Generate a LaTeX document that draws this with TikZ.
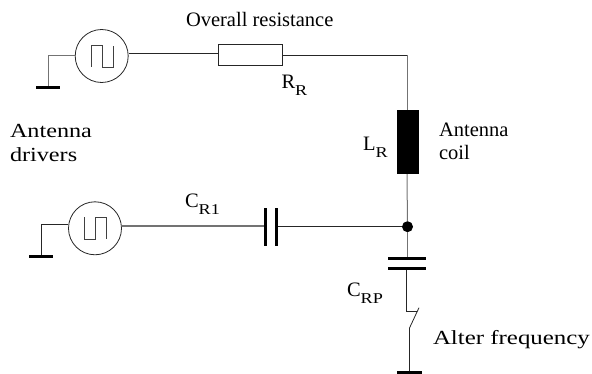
\documentclass[tikz,border=0pt]{standalone}
\usepackage{fontspec}
\setmainfont{Liberation Serif}
\newfontfamily\widefont[FakeStretch=1.21]{Liberation Serif}
\newfontfamily\widerfont[FakeStretch=1.245]{Liberation Serif}
\newcommand{\subR}[1]{\raisebox{-7pt}{\widefont\fontsize{15}{15}\selectfont #1}}
\tikzset{
  wire/.style={line width=0.8pt,draw=black!85},
  greywire/.style={line width=1pt,draw=black!55},
  heavy/.style={line width=1.6pt,draw=black!55},
  wave/.style={line width=0.8pt,draw=black!75,line join=miter},
  source/.style={circle,draw=black!85,line width=0.8pt,minimum size=53pt,inner sep=0pt},
  resistor/.style={rectangle,draw=black!85,line width=0.8pt,minimum width=64pt,minimum height=21pt,inner sep=0pt},
  coil/.style={rectangle,fill=black,minimum width=22.5pt,minimum height=64pt,inner sep=0pt},
  plateV/.style={rectangle,fill=black,minimum width=3pt,minimum height=38pt,inner sep=0pt},
  plateH/.style={rectangle,fill=black,minimum width=38pt,minimum height=3pt,inner sep=0pt},
  groundbar/.style={rectangle,fill=black,minimum height=3pt,minimum width=24.5pt,inner sep=0pt},
  junction/.style={circle,fill=black,minimum size=11pt,inner sep=0pt},
  label/.style={anchor=base west,inner sep=0pt,outer sep=0pt,font=\fontsize{20.5}{20.5}\selectfont},
  widelabel/.style={label,font=\widefont\fontsize{20}{20}\selectfont},
  widerlabel/.style={label,font=\widerfont\fontsize{20}{20}\selectfont}
}
\begin{document}
\begin{tikzpicture}[x=1pt,y=-1pt]
\useasboundingbox (0,0) rectangle (592,374);
% shapes
\node[source] (s1) at (101.7,56) {};
\node[source] (s2) at (95,228.3) {};
\node[resistor] (r) at (250,55) {};
\node[coil] (l) at (408.2,142) {};
\node[junction] (j) at (407.5,226.7) {};
\node[plateV] (c1a) at (265.7,227) {};
\node[plateV] (c1b) at (276.7,227) {};
\node[plateH] (c2a) at (407,258.3) {};
\node[plateH] (c2b) at (407,268.3) {};
\node[groundbar] (g1) at (48,87.5) {};
\node[groundbar] (g2) at (41,256.3) {};
\node[groundbar] (g3) at (409.5,372.7) {};
% helper points
\coordinate (k1) at (48,56);
\coordinate (k2) at (41.5,224.5);
\coordinate (k3) at (407,55.5);
\coordinate (sw1) at (406.7,311);
\coordinate (sw2) at (417.4,311);
\coordinate (sw3) at (419,307.7);
\coordinate (sw4) at (409.5,328);
% top branch
\draw[greywire] (s1.180) -- (k1) -- (g1.north -| k1);
\draw[wire] (s1.east |- 0,53) -- (r.west |- 0,53);
\draw[wire] (r.east |- k3) -- (k3);
\draw[greywire] (k3) -- (l.north -| k3);
\draw[greywire] (l.south -| k3) -- (j);
% wave 1
\draw[wave] (91.5,67) -- (91.5,45.5) -- (102,45.5) -- (102,67.5) -- (113,67.5) -- (113,46);
% lower branch
\draw[wire] (s2.west |- k2) -- (k2) -- (g2.north -| k2);
\draw[heavy] (s2.east |- 0,226) -- (c1a.west |- 0,226);
\draw[wire] (c1b.east |- j) -- (j);
% wave 2
\draw[wave] (84,217.3) -- (84,239.3) -- (95,239.3) -- (95,217.3) -- (106.3,217.3) -- (106.3,239.3);
% right column
\draw[greywire] (j) -- (c2a.north -| j);
\draw[wire] (c2b.south -| sw1) -- (sw1) -- (sw2);
\draw[wire] (sw3) -- (sw4) -- (g3.north -| sw4);
% labels
\node[label] (t1) at (186,27) {Overall resistance};
\node[label] (t2) at (281.5,89) {R\subR{R}};
\node[widelabel] (t3) at (10,138) {Antenna};
\node[widelabel] (t4) at (10,162) {drivers};
\node[label] (t5) at (363,151) {L\subR{R}};
\node[label] (t6) at (439,137) {Antenna};
\node[label] (t7) at (439,160) {coil};
\node[label] (t8) at (185,208) {C\subR{R1}};
\node[label] (t9) at (347,297) {C\subR{RP}};
\node[widerlabel] (t10) at (433,344) {Alter frequency};
\end{tikzpicture}
\end{document}
